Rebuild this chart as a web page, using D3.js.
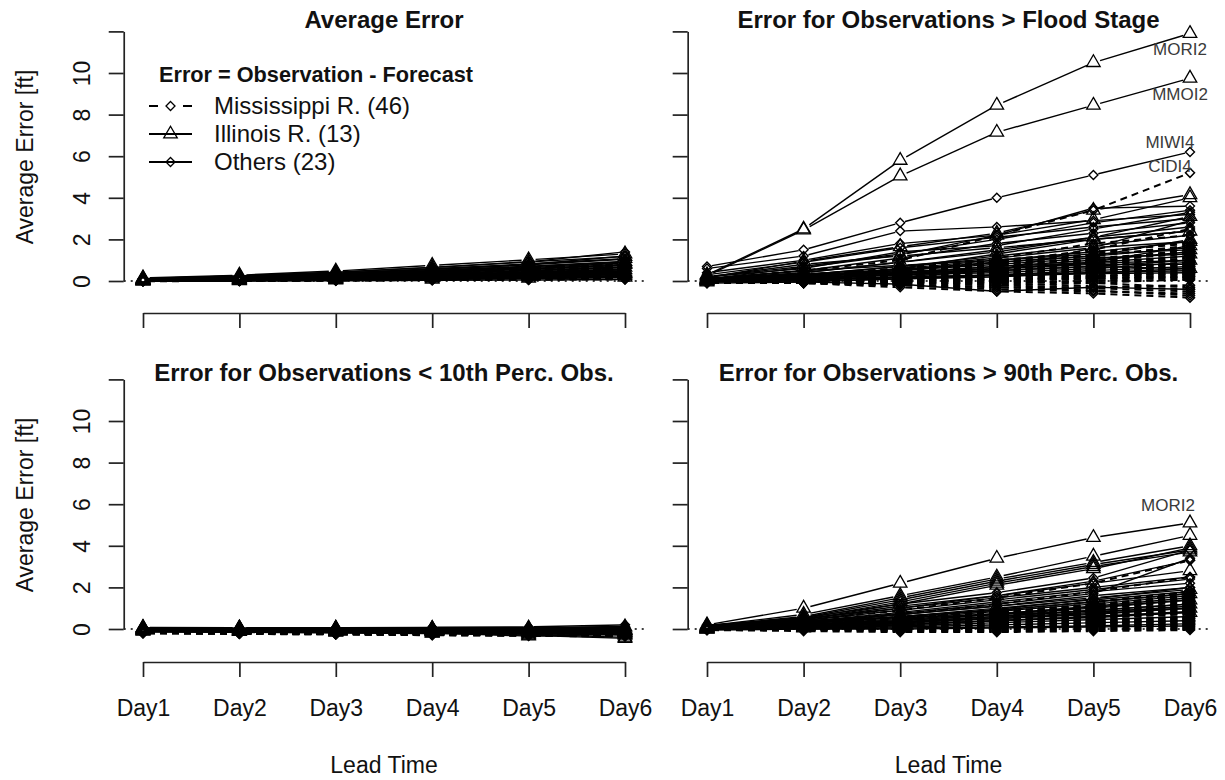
<!DOCTYPE html>
<html>
<head>
<meta charset="utf-8">
<script src="https://cdn.jsdelivr.net/npm/d3@7"></script>
<style>
  body { margin: 0; background: #fff; }
  svg { display: block; }
  text { font-family: "Liberation Sans", Arial, sans-serif; fill: #111; }
</style>
</head>
<body>
<svg id="chart" width="1225" height="780"></svg>
<script>
// ---- categories and ticks ----
const days = ["Day1", "Day2", "Day3", "Day4", "Day5", "Day6"];
const yTicks = [0, 2, 4, 6, 8, 10, 12];
const yTickLabels = ["0", "2", "4", "6", "8", "10", ""];
const groupNames = ["Mississippi R. (46)", "Illinois R. (13)", "Others (23)"];
const legendTitle = "Error = Observation - Forecast";
const panelTitles = ["Average Error", "Error for Observations > Flood Stage",
                     "Error for Observations < 10th Perc. Obs.", "Error for Observations > 90th Perc. Obs."];

// ---- Average error, all observations ----
const avgMiss = [
  [0.02,0.05,0.10,0.16,0.22,0.28],[0.03,0.06,0.12,0.20,0.30,0.38],[0.01,0.03,0.06,0.10,0.14,0.18],
  [0.05,0.10,0.18,0.28,0.40,0.52],[0.00,0.02,0.05,0.08,0.12,0.15],[0.04,0.09,0.17,0.26,0.36,0.46],
  [0.02,0.04,0.08,0.13,0.18,0.24],[0.06,0.12,0.22,0.35,0.50,0.64],[0.03,0.07,0.13,0.21,0.30,0.40],
  [0.01,0.02,0.04,0.07,0.10,0.12],[0.04,0.08,0.15,0.24,0.34,0.44],[0.02,0.05,0.11,0.18,0.26,0.34],
  [0.07,0.14,0.25,0.40,0.58,0.75],[0.03,0.06,0.11,0.17,0.24,0.31],[0.00,0.01,0.03,0.05,0.08,0.10],
  [0.05,0.11,0.20,0.31,0.44,0.57],[0.02,0.04,0.09,0.15,0.21,0.27],[0.08,0.16,0.28,0.44,0.62,0.80],
  [0.01,0.04,0.08,0.12,0.17,0.22],[0.04,0.08,0.14,0.22,0.31,0.41],[0.03,0.07,0.14,0.23,0.33,0.43],
  [0.06,0.12,0.21,0.33,0.47,0.60],[0.02,0.03,0.06,0.10,0.15,0.20],[0.05,0.10,0.19,0.30,0.42,0.55],
  [-0.01,0.00,0.02,0.04,0.06,0.08],[0.03,0.06,0.12,0.19,0.27,0.36],[0.09,0.18,0.30,0.46,0.64,0.82],
  [0.02,0.05,0.10,0.16,0.23,0.30],[0.04,0.09,0.16,0.25,0.35,0.47],[0.01,0.03,0.07,0.11,0.16,0.21],
  [0.06,0.13,0.23,0.36,0.51,0.66],[0.03,0.05,0.10,0.16,0.22,0.29],[0.05,0.10,0.18,0.29,0.41,0.53],
  [0.02,0.06,0.12,0.19,0.28,0.37],[0.07,0.15,0.26,0.41,0.57,0.72],[0.01,0.02,0.05,0.09,0.13,0.17],
  [0.04,0.07,0.13,0.21,0.29,0.39],[0.03,0.08,0.15,0.24,0.34,0.45],[0.05,0.12,0.21,0.33,0.46,0.60],
  [0.02,0.04,0.07,0.12,0.18,0.23],[0.06,0.11,0.20,0.32,0.45,0.58],[0.01,0.05,0.09,0.14,0.20,0.26],
  [0.04,0.10,0.18,0.28,0.39,0.50],[0.08,0.15,0.27,0.42,0.58,0.70],[0.03,0.06,0.11,0.18,0.25,0.33],
  [0.02,0.05,0.09,0.15,0.21,0.28]
];
const avgIll = [
  [0.15,0.28,0.48,0.75,1.02,1.30],[0.12,0.24,0.42,0.66,0.92,1.18],[0.10,0.20,0.36,0.58,0.82,1.08],
  [0.08,0.17,0.31,0.50,0.71,0.94],[0.06,0.14,0.26,0.42,0.60,0.80],[0.05,0.11,0.21,0.35,0.50,0.66],
  [0.04,0.09,0.17,0.28,0.40,0.54],[0.03,0.07,0.13,0.22,0.32,0.43],[0.02,0.05,0.10,0.17,0.25,0.34],
  [0.01,0.04,0.08,0.13,0.19,0.26],[0.02,0.06,0.12,0.20,0.29,0.38],[0.00,0.02,0.05,0.09,0.13,0.18],
  [0.07,0.15,0.28,0.45,0.64,0.86]
];
const avgOth = [
  [0.12,0.25,0.42,0.65,0.92,1.40],[0.10,0.20,0.35,0.55,0.78,1.05],[0.08,0.16,0.30,0.48,0.68,0.90],
  [0.06,0.13,0.25,0.40,0.57,0.75],[0.05,0.11,0.21,0.34,0.48,0.64],[0.04,0.09,0.18,0.29,0.41,0.55],
  [0.03,0.07,0.14,0.24,0.34,0.46],[0.02,0.06,0.12,0.20,0.29,0.38],[0.01,0.04,0.09,0.15,0.22,0.30],
  [0.00,0.03,0.07,0.12,0.17,0.23],[0.02,0.05,0.10,0.17,0.25,0.33],[0.04,0.08,0.16,0.26,0.37,0.49],
  [0.07,0.14,0.26,0.41,0.58,0.76],[0.00,0.02,0.04,0.07,0.11,0.15],[0.03,0.06,0.11,0.18,0.26,0.35],
  [0.05,0.10,0.19,0.31,0.44,0.58],[0.01,0.03,0.06,0.10,0.15,0.20],[0.09,0.18,0.32,0.50,0.70,0.92],
  [0.02,0.04,0.08,0.13,0.19,0.25],[-0.02,-0.01,0.01,0.03,0.05,0.07],[0.06,0.12,0.22,0.36,0.51,0.68],
  [0.03,0.07,0.13,0.22,0.31,0.41],[0.11,0.22,0.38,0.58,0.80,1.20]
];

// ---- Observations above flood stage ----
const floodMiss = [
  [0.10,0.50,1.00,2.20,3.40,5.20],[0.00,0.20,0.40,0.90,1.50,2.50],[0.05,0.30,0.60,1.10,1.80,2.20],
  [0.10,0.20,0.50,0.80,1.30,1.90],[0.00,0.10,0.30,0.70,1.20,1.70],[0.00,0.10,0.40,0.90,1.00,1.50],
  [-0.05,0.05,0.30,0.60,0.90,1.40],[0.05,0.10,0.20,0.50,0.80,1.20],[0.00,0.00,0.20,0.40,0.70,1.00],
  [0.00,0.05,0.10,0.30,0.50,0.90],[-0.10,0.00,0.10,0.30,0.60,0.80],[0.00,0.00,0.10,0.20,0.40,0.70],
  [0.05,0.10,0.10,0.20,0.30,0.60],[0.00,-0.05,0.00,0.10,0.20,0.50],[0.00,0.00,0.05,0.10,0.20,0.40],
  [-0.05,-0.05,0.00,0.00,0.10,0.30],[0.00,-0.10,-0.10,-0.10,0.00,0.20],[0.00,-0.05,-0.10,-0.20,-0.10,0.10],
  [-0.05,-0.10,-0.20,-0.30,-0.30,-0.20],[0.00,-0.10,-0.20,-0.40,-0.50,-0.60],[-0.05,-0.10,-0.30,-0.50,-0.60,-0.80],
  [0.00,-0.05,-0.15,-0.30,-0.45,-0.70],[0.00,0.00,-0.05,-0.20,-0.35,-0.50],[0.05,0.00,-0.05,-0.10,-0.25,-0.40],
  [0.00,0.05,0.10,0.00,-0.10,-0.30],[0.10,0.20,0.30,0.50,0.60,0.50],[0.05,0.15,0.25,0.45,0.65,0.80],
  [0.00,0.10,0.35,0.55,0.75,1.10],[0.00,0.15,0.45,0.75,1.00,1.30],[0.10,0.25,0.60,0.95,1.25,1.60],
  [0.05,0.20,0.50,1.00,1.40,1.80],[0.00,0.10,0.30,0.60,1.10,1.40],[0.00,0.05,0.20,0.45,0.85,1.20],
  [-0.05,0.00,0.15,0.35,0.60,0.90],[0.00,0.05,0.10,0.25,0.45,0.70],[0.05,0.05,0.15,0.30,0.55,0.75],
  [0.00,0.00,0.00,0.05,0.15,0.25],[-0.05,0.00,0.05,0.15,0.25,0.35],[0.00,0.05,0.05,0.10,0.10,0.15],
  [0.05,0.10,0.15,0.20,0.25,0.35],[0.00,0.00,-0.05,-0.05,0.00,0.05],[0.00,0.10,0.20,0.30,0.40,0.45],
  [0.05,0.15,0.30,0.40,0.50,0.65],[0.00,0.00,0.10,0.35,0.50,0.60],[-0.10,-0.10,-0.05,0.05,0.15,0.20],
  [0.00,0.05,0.20,0.40,1.00,1.00]
];
const floodIll = [
  [0.30,2.50,5.80,8.45,10.50,11.90],[0.25,2.45,5.05,7.15,8.45,9.75],[0.15,0.95,1.65,2.30,3.40,4.15],
  [0.10,0.65,1.25,2.20,2.95,4.00],[0.05,0.40,0.90,1.40,2.10,3.10],[0.20,0.80,1.20,1.60,2.00,2.40],
  [0.00,0.30,0.70,1.10,1.60,1.90],[0.10,0.50,0.75,1.00,1.30,1.50],[0.05,0.25,0.50,0.80,1.10,1.30],
  [-0.05,0.10,0.35,0.60,0.85,1.00],[0.00,0.20,0.40,0.70,0.90,1.70],[0.05,0.15,0.30,0.50,0.70,0.60],
  [0.10,0.35,0.55,0.90,1.20,2.00]
];
const floodOth = [
  [0.70,1.50,2.80,4.00,5.10,6.20],[0.60,1.20,2.40,2.60,2.90,3.20],[0.40,1.00,1.80,2.20,3.50,3.60],
  [0.30,0.90,1.60,2.10,2.60,3.00],[0.20,0.70,1.30,2.00,2.80,3.40],[0.10,0.50,1.10,1.80,2.30,2.80],
  [0.10,0.40,0.90,1.50,2.10,2.60],[0.05,0.30,0.70,1.20,1.70,2.20],[0.00,0.20,0.60,1.00,1.40,1.90],
  [0.10,0.30,0.50,0.90,1.20,1.60],[0.00,0.10,0.40,0.70,1.00,1.40],[0.05,0.20,0.30,0.60,0.90,1.20],
  [-0.05,0.05,0.20,0.50,0.70,1.00],[0.00,0.10,0.30,0.40,0.60,0.90],[0.10,0.25,0.45,0.60,0.80,0.80],
  [0.00,0.00,0.10,0.30,0.50,0.70],[0.05,0.10,0.20,0.30,0.40,0.50],[-0.10,-0.05,0.10,0.20,0.40,0.60],
  [0.00,0.05,0.15,0.25,0.35,0.40],[0.20,0.60,1.40,1.70,2.50,3.30],[0.05,0.15,0.60,1.30,2.00,2.40],
  [0.00,-0.05,-0.15,-0.50,-0.30,-0.40],[0.10,0.30,0.40,0.50,1.60,2.90]
];

// ---- Observations below the 10th percentile ----
const lowMiss = [
  [-0.05,-0.08,-0.10,-0.12,-0.14,-0.16],[-0.10,-0.12,-0.15,-0.18,-0.20,-0.22],[-0.02,-0.04,-0.06,-0.08,-0.09,-0.10],
  [-0.15,-0.18,-0.20,-0.24,-0.27,-0.30],[-0.08,-0.10,-0.12,-0.15,-0.17,-0.19],[-0.12,-0.15,-0.18,-0.21,-0.24,-0.26],
  [-0.04,-0.06,-0.08,-0.11,-0.12,-0.13],[-0.18,-0.21,-0.24,-0.27,-0.30,-0.33],[-0.06,-0.09,-0.11,-0.14,-0.16,-0.18],
  [-0.01,-0.02,-0.03,-0.04,-0.05,-0.06],[-0.10,-0.13,-0.16,-0.19,-0.22,-0.25],[-0.07,-0.09,-0.12,-0.14,-0.16,-0.17],
  [-0.20,-0.22,-0.25,-0.28,-0.30,-0.32],[-0.03,-0.05,-0.07,-0.09,-0.10,-0.12],[-0.13,-0.16,-0.19,-0.22,-0.25,-0.28],
  [-0.09,-0.11,-0.13,-0.16,-0.18,-0.20],[-0.16,-0.19,-0.22,-0.26,-0.29,-0.31],[0.00,-0.01,-0.02,-0.03,-0.03,-0.04],
  [-0.11,-0.14,-0.16,-0.20,-0.23,-0.24],[-0.05,-0.07,-0.10,-0.12,-0.13,-0.15],[-0.14,-0.17,-0.21,-0.23,-0.26,-0.29],
  [-0.08,-0.10,-0.13,-0.15,-0.18,-0.21],[-0.02,-0.03,-0.05,-0.07,-0.08,-0.09],[-0.17,-0.20,-0.23,-0.25,-0.28,-0.30],
  [-0.06,-0.08,-0.09,-0.11,-0.12,-0.14],[-0.12,-0.14,-0.17,-0.20,-0.21,-0.23],[-0.04,-0.07,-0.09,-0.10,-0.11,-0.11],
  [-0.19,-0.23,-0.26,-0.29,-0.32,-0.35],[-0.09,-0.12,-0.14,-0.17,-0.19,-0.22],[-0.03,-0.04,-0.06,-0.08,-0.10,-0.11],
  [-0.13,-0.15,-0.18,-0.21,-0.24,-0.27],[-0.07,-0.10,-0.11,-0.13,-0.15,-0.16],[-0.15,-0.18,-0.21,-0.24,-0.26,-0.29],
  [-0.01,-0.03,-0.04,-0.05,-0.06,-0.08],[-0.10,-0.12,-0.14,-0.16,-0.19,-0.21],[-0.05,-0.06,-0.08,-0.10,-0.11,-0.13],
  [-0.21,-0.24,-0.26,-0.30,-0.33,-0.36],[-0.08,-0.11,-0.13,-0.15,-0.17,-0.18],[-0.12,-0.13,-0.16,-0.18,-0.20,-0.24],
  [-0.02,-0.05,-0.07,-0.09,-0.10,-0.10],[-0.14,-0.16,-0.19,-0.22,-0.25,-0.27],[-0.06,-0.08,-0.10,-0.13,-0.14,-0.15],
  [-0.17,-0.19,-0.22,-0.25,-0.27,-0.32],[-0.04,-0.05,-0.08,-0.10,-0.12,-0.14],[-0.11,-0.13,-0.15,-0.17,-0.20,-0.22],
  [0.02,0.00,-0.01,-0.02,0.00,0.05]
];
const lowIll = [
  [-0.10,-0.12,-0.15,-0.20,-0.30,-0.45],[-0.08,-0.10,-0.12,-0.18,-0.25,-0.40],[-0.05,-0.08,-0.10,-0.14,-0.20,-0.30],
  [-0.03,-0.06,-0.08,-0.11,-0.15,-0.22],[-0.02,-0.04,-0.06,-0.09,-0.12,-0.18],[0.00,-0.02,-0.04,-0.06,-0.08,-0.12],
  [0.02,0.00,-0.02,-0.03,-0.05,-0.07],[0.05,0.03,0.02,0.00,-0.02,-0.04],[0.08,0.06,0.04,0.03,0.02,0.00],
  [-0.06,-0.09,-0.13,-0.18,-0.34,-0.25],[0.03,0.02,0.00,-0.02,-0.04,-0.06],[-0.04,-0.05,-0.07,-0.10,-0.13,-0.16],
  [0.06,0.04,0.03,0.02,0.04,0.10]
];
const lowOth = [
  [0.05,0.04,0.06,0.08,0.10,0.20],[-0.02,-0.03,-0.04,-0.05,-0.06,-0.07],[-0.06,-0.08,-0.10,-0.12,-0.14,-0.16],
  [0.00,0.00,0.01,0.02,0.03,0.05],[-0.10,-0.12,-0.14,-0.17,-0.19,-0.21],[-0.04,-0.05,-0.07,-0.08,-0.09,-0.10],
  [0.02,0.02,0.03,0.04,0.05,0.08],[-0.08,-0.10,-0.12,-0.14,-0.16,-0.18],[-0.01,-0.02,-0.02,-0.03,-0.03,-0.04],
  [-0.12,-0.15,-0.17,-0.20,-0.22,-0.25],[0.03,0.03,0.02,0.02,0.01,0.00],[-0.05,-0.06,-0.08,-0.10,-0.11,-0.13],
  [-0.03,-0.04,-0.05,-0.06,-0.07,-0.09],[0.01,0.00,-0.01,-0.01,-0.02,-0.02],[-0.09,-0.11,-0.13,-0.15,-0.18,-0.20],
  [-0.07,-0.08,-0.09,-0.11,-0.12,-0.14],[0.04,0.03,0.04,0.05,0.06,0.12],[-0.14,-0.16,-0.19,-0.22,-0.24,-0.26],
  [-0.02,-0.02,-0.03,-0.04,-0.05,-0.06],[-0.06,-0.07,-0.09,-0.10,-0.12,-0.15],[0.00,-0.01,-0.02,-0.02,-0.01,0.00],
  [-0.11,-0.13,-0.15,-0.16,-0.18,-0.19],[0.02,0.01,0.00,0.01,0.02,0.03]
];

// ---- Observations above the 90th percentile ----
const highMiss = [
  [0.10,0.40,0.90,1.50,2.20,3.30],[0.10,0.30,0.70,1.20,1.80,2.50],[0.05,0.25,0.55,0.90,1.30,1.80],
  [0.05,0.20,0.50,0.80,1.20,1.60],[0.00,0.15,0.40,0.70,1.00,1.40],[0.05,0.20,0.45,0.75,1.10,1.50],
  [0.00,0.10,0.30,0.60,0.90,1.20],[0.05,0.15,0.35,0.60,0.85,1.10],[0.00,0.10,0.25,0.45,0.70,1.00],
  [0.00,0.05,0.20,0.40,0.60,0.90],[-0.05,0.05,0.15,0.30,0.50,0.80],[0.00,0.10,0.20,0.35,0.55,0.70],
  [0.05,0.10,0.20,0.30,0.45,0.60],[0.00,0.05,0.10,0.25,0.40,0.50],[0.00,0.00,0.10,0.20,0.30,0.40],
  [-0.05,0.00,0.05,0.15,0.25,0.30],[0.00,0.00,0.00,0.10,0.15,0.20],[0.00,-0.05,-0.05,0.00,0.05,0.10],
  [0.05,0.05,0.10,0.10,0.15,0.15],[0.00,-0.05,-0.10,-0.10,-0.05,0.00],[-0.05,-0.10,-0.15,-0.15,-0.10,-0.05],
  [0.00,0.00,-0.05,-0.05,0.00,0.05],[0.05,0.10,0.15,0.25,0.40,0.55],[0.10,0.20,0.35,0.55,0.80,1.05],
  [0.05,0.15,0.30,0.50,0.75,1.25],[0.00,0.10,0.30,0.55,0.85,1.15],[0.05,0.20,0.40,0.65,0.95,1.30],
  [0.10,0.25,0.50,0.80,1.15,1.45],[0.00,0.15,0.35,0.65,1.00,1.35],[0.05,0.10,0.25,0.45,0.65,0.95],
  [0.00,0.05,0.15,0.35,0.55,0.75],[0.05,0.10,0.20,0.40,0.60,0.85],[0.00,0.05,0.15,0.25,0.35,0.45],
  [0.05,0.05,0.10,0.20,0.30,0.35],[0.00,0.00,0.05,0.10,0.20,0.25],[0.10,0.20,0.40,0.70,1.05,1.70],
  [0.05,0.15,0.35,0.60,0.95,1.55],[0.00,0.10,0.25,0.50,0.80,1.10],[0.05,0.15,0.30,0.45,0.70,0.90],
  [0.00,0.05,0.10,0.20,0.30,0.50],[-0.05,0.00,0.05,0.10,0.20,0.35],[0.00,0.05,0.05,0.15,0.25,0.40],
  [0.05,0.10,0.15,0.25,0.35,0.60],[0.00,0.00,0.05,0.05,0.10,0.20],[0.10,0.25,0.45,0.75,1.10,1.60],
  [0.05,0.15,0.30,0.55,0.90,1.85]
];
const highIll = [
  [0.20,1.00,2.20,3.40,4.40,5.10],[0.15,0.70,1.60,2.50,3.50,4.50],[0.15,0.60,1.50,2.40,3.20,4.00],
  [0.10,0.55,1.40,2.30,3.10,3.80],[0.10,0.50,1.30,2.20,3.00,3.70],[0.05,0.45,1.20,2.10,2.90,3.90],
  [0.10,0.40,1.00,1.60,2.20,2.80],[0.05,0.30,0.70,1.10,1.50,1.90],[0.05,0.25,0.60,0.90,1.30,1.70],
  [0.00,0.20,0.40,0.70,1.00,1.40],[0.00,0.15,0.35,0.60,0.90,1.20],[0.05,0.10,0.30,0.50,0.70,1.00],
  [0.00,0.05,0.20,0.40,0.55,0.80]
];
const highOth = [
  [0.15,0.55,1.20,1.75,2.45,3.80],[0.10,0.45,1.10,1.60,2.30,3.30],[0.15,0.50,1.00,1.50,2.00,2.50],
  [0.10,0.40,0.90,1.40,1.90,2.40],[0.10,0.35,0.80,1.30,1.80,2.20],[0.05,0.30,0.70,1.10,1.60,2.00],
  [0.05,0.25,0.60,1.00,1.40,1.80],[0.00,0.20,0.50,0.85,1.20,1.60],[0.05,0.20,0.45,0.75,1.05,1.40],
  [0.00,0.15,0.35,0.60,0.90,1.20],[0.00,0.10,0.30,0.50,0.75,1.00],[0.05,0.10,0.25,0.40,0.60,0.80],
  [0.00,0.05,0.15,0.30,0.45,0.60],[0.00,0.05,0.10,0.20,0.30,0.40],[-0.05,0.00,0.05,0.10,0.15,0.25],
  [0.00,0.00,0.00,0.05,0.10,0.15],[0.10,0.35,0.75,1.20,1.70,3.40],[0.05,0.25,0.55,0.95,1.45,2.00],
  [0.00,0.15,0.40,0.70,1.10,1.50],[0.05,0.15,0.30,0.55,0.80,1.10],[0.00,0.05,0.20,0.40,0.60,0.85],
  [0.10,0.30,0.60,0.90,1.30,1.70],[0.20,0.40,0.55,0.70,0.85,1.00]
];

// Gauges named at their Day6 value: panel index, group, series index
const siteLabels = [
  { panel: 1, site: "MORI2", group: "ill",  idx: 0 },
  { panel: 1, site: "MMOI2", group: "ill",  idx: 1 },
  { panel: 1, site: "MIWI4", group: "oth",  idx: 0 },
  { panel: 1, site: "CIDI4", group: "miss", idx: 0 },
  { panel: 3, site: "MORI2", group: "ill",  idx: 0 }
];

// ---- drawing ----
const svg = d3.select("#chart");
const dayIdx = d3.range(1, days.length + 1);
const FONT = '"Liberation Sans", Arial, sans-serif';

const panelData = [
  { miss: avgMiss,   ill: avgIll,   oth: avgOth },
  { miss: floodMiss, ill: floodIll, oth: floodOth },
  { miss: lowMiss,   ill: lowIll,   oth: lowOth },
  { miss: highMiss,  ill: highIll,  oth: highOth }
];

// panel frame geometry
const colRange = [[143, 625], [707, 1190]];
const rowRange = [[281, 31.4], [629, 379.4]];
const xAxisAt = [313, 662];
const titleBase = [28, 381];

// label placement relative to the Day6 point (text centre)
const labelShift = {
  "1-MORI2": [-10, 22], "1-MMOI2": [-10, 22], "1-MIWI4": [-20, -4],
  "1-CIDI4": [-20, -1], "3-MORI2": [-22, -12]
};

const TRI_W = 13.5, TRI_H = 11.7, DIA_R = 4.5;
const triPath = `M0,${-TRI_H * 2 / 3}L${TRI_W / 2},${TRI_H / 3}L${-TRI_W / 2},${TRI_H / 3}Z`;
const diaPath = `M0,${-DIA_R}L${DIA_R},0L0,${DIA_R}L${-DIA_R},0Z`;

const styles = {
  miss: { dash: "7,5", marker: diaPath, gap: 5, lw: 2.0, mw: 1.5 },
  ill:  { dash: null,  marker: triPath, gap: 7, lw: 1.4, mw: 1.3 },
  oth:  { dash: null,  marker: diaPath, gap: 5, lw: 1.4, mw: 1.4 }
};

function drawGroup(g, x, y, series, st) {
  series.forEach(vals => {
    const pts = vals.map((v, i) => [x(dayIdx[i]), y(v)]);
    // lines leave a gap around every point (plot type "b")
    for (let i = 0; i < pts.length - 1; i++) {
      const [x0, y0] = pts[i], [x1, y1] = pts[i + 1];
      const dx = x1 - x0, dy = y1 - y0, len = Math.hypot(dx, dy);
      if (len <= 2 * st.gap) continue;
      const ux = dx / len, uy = dy / len;
      g.append("line")
        .attr("x1", x0 + ux * st.gap).attr("y1", y0 + uy * st.gap)
        .attr("x2", x1 - ux * st.gap).attr("y2", y1 - uy * st.gap)
        .attr("stroke", "#000").attr("stroke-width", st.lw)
        .attr("stroke-dasharray", st.dash);
    }
    g.selectAll(null).data(pts).enter().append("path")
      .attr("d", st.marker)
      .attr("transform", d => `translate(${d[0]},${d[1]})`)
      .attr("fill", "none").attr("stroke", "#000").attr("stroke-width", st.mw);
  });
}

panelData.forEach((pd, p) => {
  const col = p % 2, row = Math.floor(p / 2);
  const x = d3.scaleLinear().domain([1, days.length]).range(colRange[col]);
  const y = d3.scaleLinear().domain([0, 12]).range(rowRange[row]);
  const left = x(0.8), right = x(6.2);
  const g = svg.append("g");

  // zero reference line
  g.append("line")
    .attr("x1", left).attr("x2", right)
    .attr("y1", y(0)).attr("y2", y(0))
    .attr("stroke", "#000").attr("stroke-width", 1.3)
    .attr("stroke-dasharray", "2,5");

  drawGroup(g, x, y, pd.miss, styles.miss);
  drawGroup(g, x, y, pd.ill, styles.ill);
  drawGroup(g, x, y, pd.oth, styles.oth);

  // y axis
  const ya = g.append("g")
    .attr("transform", `translate(${left},0)`)
    .call(d3.axisLeft(y).tickValues(yTicks).tickSize(15).tickSizeOuter(0)
      .tickFormat((d, i) => col === 0 ? yTickLabels[i] : ""));
  ya.selectAll("path,line").attr("stroke", "#222").attr("stroke-width", 1.7);
  ya.selectAll("text")
    .attr("x", null).attr("dy", null)
    .attr("transform", "translate(-34,0) rotate(-90)")
    .attr("text-anchor", "middle")
    .attr("font-size", 23).attr("fill", "#111")
    .style("font-family", FONT);

  // x axis
  const xa = g.append("g")
    .attr("transform", `translate(0,${xAxisAt[row]})`)
    .call(d3.axisBottom(x).tickValues(dayIdx).tickSize(15).tickSizeOuter(0)
      .tickFormat((d, i) => row === 1 ? days[i] : ""));
  xa.selectAll("path,line").attr("stroke", "#222").attr("stroke-width", 1.7);
  xa.selectAll("text")
    .attr("y", 54).attr("dy", null)
    .attr("font-size", 23).attr("fill", "#111")
    .style("font-family", FONT);

  // title
  g.append("text")
    .attr("x", (left + right) / 2).attr("y", titleBase[row])
    .attr("text-anchor", "middle")
    .attr("font-size", 24).attr("font-weight", "bold")
    .text(panelTitles[p]);

  // axis titles
  if (row === 1) {
    g.append("text")
      .attr("x", (left + right) / 2).attr("y", 773)
      .attr("text-anchor", "middle").attr("font-size", 23)
      .text("Lead Time");
  }
  if (col === 0) {
    const cy = row === 0 ? 157 : 505;
    g.append("text")
      .attr("transform", `translate(33,${cy}) rotate(-90)`)
      .attr("text-anchor", "middle").attr("font-size", 23)
      .text("Average Error [ft]");
  }

  // gauge names
  siteLabels.filter(l => l.panel === p).forEach(l => {
    const v = pd[l.group][l.idx][days.length - 1];
    const s = labelShift[`${p}-${l.site}`];
    g.append("text")
      .attr("x", x(days.length) + s[0]).attr("y", y(v) + s[1])
      .attr("text-anchor", "middle").attr("font-size", 17)
      .style("fill", "#3a3a3a")
      .text(l.site);
  });

  // legend
  if (p === 0) {
    const lg = g.append("g");
    lg.append("text").attr("x", 159).attr("y", 82)
      .attr("font-size", 21.7).attr("font-weight", "bold").text(legendTitle);
    const keys = ["miss", "ill", "oth"];
    keys.forEach((k, i) => {
      const ly = 106 + i * 28;
      lg.append("line").attr("x1", 149).attr("x2", 192).attr("y1", ly).attr("y2", ly)
        .attr("stroke", "#000").attr("stroke-width", 1.8)
        .attr("stroke-dasharray", k === "miss" ? "9,8" : null);
      lg.append("path").attr("d", styles[k].marker)
        .attr("transform", `translate(170.5,${ly})`)
        .attr("fill", k === "miss" ? "#fff" : "none")
        .attr("stroke", "#000").attr("stroke-width", 1.3);
      lg.append("text").attr("x", 214).attr("y", ly + 8)
        .attr("font-size", 24).text(groupNames[i]);
    });
  }
});
</script>
</body>
</html>
